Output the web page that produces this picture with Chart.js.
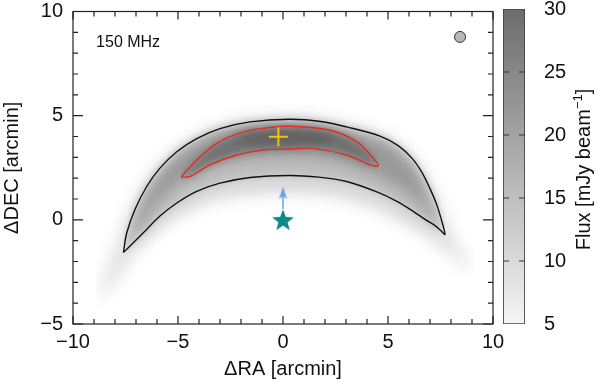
<!DOCTYPE html>
<html>
<head>
<meta charset="utf-8">
<script src="https://cdn.jsdelivr.net/npm/chart.js@4.4.1/dist/chart.umd.min.js"></script>
<style>
  html, body { margin: 0; padding: 0; background: #fff; }
  #wrap { position: relative; width: 598px; height: 385px; }
  #wrap canvas { position: absolute; left: 0; top: 0; }
</style>
</head>
<body>
<div id="wrap">
  <canvas id="map" width="598" height="385"></canvas>
  <canvas id="cbar" width="598" height="385"></canvas>
</div>
<script>
// ========= Data (offsets in arcmin) =========
const bandLabel = "150 MHz";
const bandLabelPos = [-8.9, 8.49];
const fluxTicks = [5, 10, 15, 20, 25, 30];

// black contour, outer and inner edge, left tip -> right tip
const blackOuter = [[-7.6,-1.57],[-7.44,-0.62],[-7.05,0.5],[-6.49,1.6],[-5.86,2.48],[-5.06,3.27],[-4.11,3.9],[-3.0,4.38],[-1.57,4.7],[0.3,4.83],[1.8,4.72],[3.03,4.46],[4.62,4.02],[5.5,3.55],[6.15,2.95],[6.6,2.3],[7.0,1.5],[7.32,0.73],[7.6,-0.2],[7.71,-0.7]];
const blackInner = [[-7.6,-1.57],[-7.44,-1.41],[-6.65,-0.62],[-5.86,0.18],[-5.06,0.81],[-4.11,1.37],[-3.0,1.76],[-1.57,2.03],[0.3,2.13],[1.7,2.05],[3.03,1.84],[4.5,1.33],[5.4,0.9],[6.2,0.41],[6.8,0.0],[7.16,-0.22],[7.5,-0.5],[7.71,-0.7]];

// red contour, upper and lower edge, left tip -> right tip
const redTop = [[-4.86,2.05],[-4.11,2.87],[-3.16,3.67],[-1.89,4.22],[-0.62,4.43],[0.33,4.49],[2.24,4.3],[3.51,3.75],[4.3,2.95],[4.54,2.6]];
const redBottom = [[-4.86,2.05],[-4.43,2.08],[-3.48,2.64],[-2.2,3.11],[-0.94,3.35],[0.33,3.4],[1.44,3.43],[3.03,3.11],[4.14,2.64],[4.54,2.6]];

// grey emission outside the contours (faint tails + inner glow)
const glowTop = [[-8.9,-3.9],[-8.45,-2.6],[-7.95,-1.2],[-7.3,0.45],[-6.7,1.6],[-6.0,2.55],[-5.1,3.4],[-4.1,4.05],[-3.0,4.52],[-1.6,4.85],[0.3,4.98],[1.8,4.87],[3.0,4.6],[4.6,4.15],[5.6,3.6],[6.3,2.95],[7.1,1.6],[7.55,0.6],[8.0,-0.5],[8.55,-1.6],[9.1,-2.6]];
const glowBottom = [[-8.9,-3.9],[-8.0,-3.0],[-7.3,-2.0],[-6.6,-1.15],[-5.8,-0.45],[-5.0,0.1],[-4.0,0.6],[-3.0,0.95],[-1.6,1.15],[0.3,1.2],[1.8,1.15],[3.0,0.95],[4.5,0.45],[5.5,-0.05],[6.5,-0.6],[7.3,-1.2],[8.2,-1.9],[9.1,-2.6]];
const innerGlowBottom = [[-7.6,-1.57],[-6.65,-1.1],[-5.86,-0.35],[-5.06,0.3],[-4.11,0.85],[-3.0,1.25],[-1.57,1.5],[0.3,1.6],[1.7,1.52],[3.03,1.3],[4.5,0.8],[5.4,0.35],[6.2,-0.15],[6.8,-0.5],[7.71,-0.7]];

// bright ridge of the arc and its core
const ridgeTop = [[-7.35,-0.9],[-6.9,0.45],[-6.3,1.6],[-5.6,2.55],[-4.8,3.3],[-4.1,3.75],[-3.0,4.25],[-1.6,4.55],[0.3,4.68],[1.8,4.58],[3.0,4.32],[4.6,3.85],[5.6,3.2],[6.3,2.4],[6.85,1.3],[7.2,0.4],[7.45,-0.4]];
const ridgeBottom = [[-7.35,-0.9],[-6.8,-0.2],[-6.0,0.8],[-5.1,1.6],[-4.1,2.2],[-3.0,2.65],[-1.6,2.92],[0.3,3.0],[1.8,2.92],[3.0,2.65],[4.6,2.05],[5.6,1.5],[6.3,1.0],[6.85,0.45],[7.45,-0.4]];
const coreTop = [[-2.5,4.1],[-1.2,4.4],[0.3,4.45],[1.6,4.35],[2.8,4.0]];
const coreBottom = [[-2.5,4.1],[-1.2,3.55],[0.3,3.5],[1.6,3.55],[2.8,4.0]];

// markers
const starPos = [[0, 0]];
const crossPos = [[-0.22, 3.99]];
const motionShaft = [[0, 0.52], [0, 1.2]];
const motionTip = [[0, 1.31]];
const beamPos = [[8.43, 8.78]];

// ========= Helpers =========
const FONT = '"Liberation Sans", Arial, Helvetica, sans-serif';
Chart.defaults.font.family = FONT;
Chart.defaults.color = "#111";

const pts = a => a.map(([x, y]) => ({ x, y }));
const fmt = v => (v < 0 ? "\u2212" + Math.abs(v) : String(v));

function band(top, bottom, alpha, blur) {
  return [
    { data: pts(top), fill: "+1", backgroundColor: `rgba(0,0,0,${alpha})`, borderColor: "transparent", pointRadius: 0, tension: 0.4, blur },
    { data: pts(bottom), fill: false, borderColor: "transparent", pointRadius: 0, tension: 0.4 }
  ];
}

function closeLoop(upper, lower) {
  return [...upper, ...lower.slice(1, -1).reverse(), upper[0]];
}

function starImage(color) {
  const c = document.createElement("canvas");
  c.width = 26; c.height = 26;
  const g = c.getContext("2d");
  g.beginPath();
  for (let i = 0; i < 10; i++) {
    const r = i % 2 === 0 ? 11.5 : 4.8;
    const a = -Math.PI / 2 + i * Math.PI / 5;
    g.lineTo(13 + r * Math.cos(a), 14 + r * Math.sin(a));
  }
  g.closePath();
  g.fillStyle = color;
  g.fill();
  return c;
}

function arrowHead(color) {
  const c = document.createElement("canvas");
  c.width = 9; c.height = 12;
  const g = c.getContext("2d");
  g.beginPath();
  g.moveTo(4.5, 0); g.lineTo(8.5, 12); g.lineTo(4.5, 10); g.lineTo(0.5, 12);
  g.closePath();
  g.fillStyle = color;
  g.fill();
  return c;
}

// blur the soft grey layers only (filler paints them in beforeDatasetDraw)
function setBlur(chart, i) {
  const ds = chart.data.datasets[i];
  chart.ctx.filter = ds && ds.blur ? `blur(${ds.blur}px)` : "none";
}
const softFill = {
  id: "softFill",
  beforeDatasetsDraw(chart) { setBlur(chart, chart.data.datasets.length - 1); },
  afterDatasetDraw(chart, args) { setBlur(chart, args.index - 1); },
  afterDatasetsDraw(chart) { chart.ctx.filter = "none"; }
};

// ========= Frame, inward ticks, band label =========
const frameTicks = {
  id: "frameTicks",
  afterDraw(chart) {
    const { ctx, chartArea: a, scales: { x, y } } = chart;
    ctx.save();
    ctx.strokeStyle = "#222";
    ctx.lineWidth = 1.2;
    ctx.strokeRect(a.left, a.top, a.right - a.left, a.bottom - a.top);
    ctx.beginPath();
    for (let v = x.min; v <= x.max; v++) {
      const px = x.getPixelForValue(v);
      const len = v % 5 === 0 ? 8 : 5;
      ctx.moveTo(px, a.bottom); ctx.lineTo(px, a.bottom - len);
      ctx.moveTo(px, a.top); ctx.lineTo(px, a.top + len);
    }
    for (let v = y.min; v <= y.max; v++) {
      const py = y.getPixelForValue(v);
      const len = v % 5 === 0 ? 10 : 5;
      ctx.moveTo(a.left, py); ctx.lineTo(a.left + len, py);
      ctx.moveTo(a.right, py); ctx.lineTo(a.right - len, py);
    }
    ctx.stroke();
    ctx.fillStyle = "#111";
    ctx.font = "16px " + FONT;
    ctx.textBaseline = "middle";
    ctx.fillText(bandLabel, x.getPixelForValue(bandLabelPos[0]), y.getPixelForValue(bandLabelPos[1]));
    ctx.restore();
  }
};

// ========= Map =========
new Chart(document.getElementById("map"), {
  type: "line",
  data: {
    datasets: [
      { data: pts(starPos), showLine: false, pointStyle: starImage("#0b8a87") },
      { data: pts(crossPos), showLine: false, pointStyle: "cross", pointRadius: 9.5, borderColor: "#f5c400", pointBorderWidth: 2 },
      { data: pts(motionTip), showLine: false, pointStyle: arrowHead("#6f9fec") },
      { data: pts(motionShaft), borderColor: "#6f9fec", borderWidth: 1.5, pointRadius: 0 },
      { data: pts(beamPos), showLine: false, pointStyle: "circle", pointRadius: 5.5, backgroundColor: "#b8b8b8", borderColor: "#333", pointBorderWidth: 1 },
      { data: pts(closeLoop(redTop, redBottom)), borderColor: "#e52b22", borderWidth: 1.4, pointRadius: 0, tension: 0.35 },
      { data: pts(closeLoop(blackOuter, blackInner)), borderColor: "#111", borderWidth: 1.4, pointRadius: 0, tension: 0.35 },
      ...band(coreTop, coreBottom, 0.12, 5),
      ...band(redTop, redBottom, 0.27, 4),
      ...band(ridgeTop, ridgeBottom, 0.2, 7),
      ...band(blackOuter, blackInner, 0.15, 4),
      ...band(blackInner, innerGlowBottom, 0.07, 8),
      ...band(glowTop, glowBottom, 0.12, 8)
    ]
  },
  options: {
    responsive: false,
    animation: false,
    devicePixelRatio: 1,
    layout: { padding: { left: 0, top: 9, right: 105, bottom: 0 } },
    plugins: { legend: { display: false }, tooltip: { enabled: false } },
    scales: {
      x: {
        type: "linear", min: -10, max: 10,
        ticks: { stepSize: 5, padding: 6, font: { size: 20 }, maxRotation: 0, callback: fmt },
        grid: { display: false, drawTicks: false },
        border: { display: false },
        title: { display: true, text: "\u0394RA [arcmin]", font: { size: 20 }, padding: { top: 0, bottom: 4 } },
        afterFit: s => { s.height = 61; s.paddingLeft = 0; s.paddingRight = 0; }
      },
      y: {
        type: "linear", min: -5, max: 10,
        ticks: { stepSize: 5, padding: 10, font: { size: 20 }, callback: fmt },
        grid: { display: false, drawTicks: false },
        border: { display: false },
        title: { display: true, text: "\u0394DEC [arcmin]", font: { size: 20 }, padding: { top: 0, bottom: 0 } },
        afterFit: s => { s.width = 73; s.paddingTop = 0; s.paddingBottom = 0; }
      }
    }
  },
  plugins: [softFill, frameTicks]
});

// ========= Colour bar =========
const cbarDecor = {
  id: "cbarDecor",
  afterDraw(chart) {
    const { ctx, chartArea: a, scales: { y } } = chart;
    ctx.save();
    ctx.strokeStyle = "#333";
    ctx.lineWidth = 1.2;
    ctx.beginPath();
    fluxTicks.slice(1, -1).forEach(v => {
      const py = y.getPixelForValue(v);
      ctx.moveTo(a.left, py); ctx.lineTo(a.left + 6, py);
      ctx.moveTo(a.right, py); ctx.lineTo(a.right - 6, py);
    });
    ctx.stroke();

    // axis title, reading upwards, with a raised "-1"
    const main = "Flux [mJy beam", sup = "\u22121", end = "]";
    const big = "20px " + FONT, small = "13px " + FONT;
    ctx.font = big; const w1 = ctx.measureText(main).width, w3 = ctx.measureText(end).width;
    ctx.font = small; const w2 = ctx.measureText(sup).width;
    const total = w1 + w2 + w3;
    ctx.translate(y.right - 8, (a.top + a.bottom) / 2 + 3);
    ctx.rotate(-Math.PI / 2);
    ctx.fillStyle = "#111";
    ctx.textBaseline = "alphabetic";
    let cx = -total / 2;
    ctx.font = big; ctx.fillText(main, cx, 0); cx += w1;
    ctx.font = small; ctx.fillText(sup, cx, -8); cx += w2;
    ctx.font = big; ctx.fillText(end, cx, 0);
    ctx.restore();
  }
};

new Chart(document.getElementById("cbar"), {
  type: "bar",
  data: {
    labels: ["flux"],
    datasets: [{
      data: [[fluxTicks[0], fluxTicks[fluxTicks.length - 1]]],
      backgroundColor: c => {
        const { ctx, chartArea } = c.chart;
        if (!chartArea) return "#bbb";
        const g = ctx.createLinearGradient(0, chartArea.bottom, 0, chartArea.top);
        g.addColorStop(0, "#f5f5f5");
        g.addColorStop(1, "#6c6c6c");
        return g;
      },
      borderColor: "#444",
      borderWidth: 1.2,
      borderSkipped: false,
      barPercentage: 1,
      categoryPercentage: 1
    }]
  },
  options: {
    responsive: false,
    animation: false,
    devicePixelRatio: 1,
    layout: { padding: { left: 503, top: 9, right: 0, bottom: 61 } },
    plugins: { legend: { display: false }, tooltip: { enabled: false } },
    scales: {
      x: { display: false },
      y: {
        position: "right", min: 5, max: 30,
        ticks: { stepSize: 5, padding: 19, font: { size: 20 } },
        grid: { display: false, drawTicks: false },
        border: { display: false },
        afterFit: s => { s.width = 73; s.paddingTop = 0; s.paddingBottom = 0; }
      }
    }
  },
  plugins: [cbarDecor]
});
</script>
</body>
</html>
